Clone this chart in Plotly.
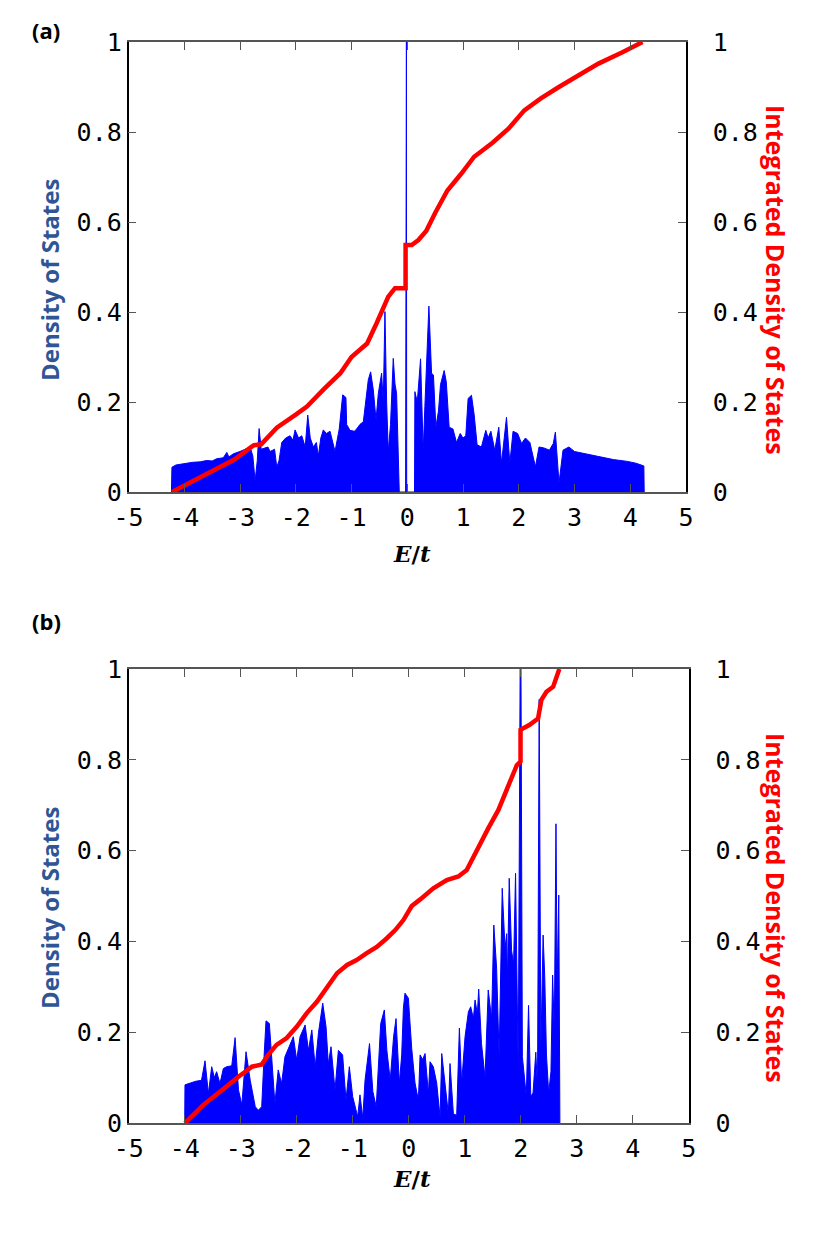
import plotly.graph_objects as go

# ---- data: panel (a) ----
dos_a_x = [-4.23, -4.221, -4.15, -4.0, -3.85, -3.714, -3.6, -3.5, -3.415, -3.3, -3.236, -3.2, -3.117, -3.0,
           -2.938, -2.818, -2.77, -2.729, -2.69, -2.657, -2.62, -2.58, -2.5, -2.46, -2.38, -2.34, -2.3, -2.251,
           -2.18, -2.102, -2.05, -2.012, -1.95, -1.892, -1.83, -1.785, -1.74, -1.684, -1.63, -1.595, -1.55,
           -1.505, -1.45, -1.385, -1.296, -1.22, -1.158, -1.1, -1.087, -1.027, -0.95, -0.908, -0.85, -0.788,
           -0.74, -0.699, -0.657, -0.609, -0.56, -0.519, -0.46, -0.43, -0.40, -0.37, -0.34, -0.30, -0.251,
           -0.22, -0.191, -0.16, -0.143, -0.03, -0.025, -0.015, -0.01, 0.13, 0.137, 0.18, 0.239, 0.286, 0.316,
           0.388, 0.436, 0.47, 0.513, 0.56, 0.597, 0.662, 0.70, 0.752, 0.82, 0.884, 0.95, 1.0, 1.05, 1.092,
           1.152, 1.2, 1.253, 1.33, 1.409, 1.45, 1.5, 1.57, 1.642, 1.69, 1.78, 1.84, 1.898, 1.98, 2.05, 2.12,
           2.2, 2.299, 2.364, 2.45, 2.55, 2.62, 2.657, 2.69, 2.722, 2.794, 2.9, 3.0, 3.2, 3.45, 3.7, 3.95,
           4.1, 4.244, 4.25]
dos_a_y = [0, 0.055, 0.06, 0.063, 0.066, 0.067, 0.07, 0.069, 0.074, 0.076, 0.088, 0.078, 0.085, 0.09,
           0.093, 0.10, 0.08, 0.025, 0.07, 0.141, 0.095, 0.097, 0.1, 0.09, 0.095, 0.055, 0.07, 0.11,
           0.12, 0.125, 0.115, 0.138, 0.12, 0.125, 0.1, 0.171, 0.12, 0.1, 0.11, 0.08, 0.12,
           0.138, 0.13, 0.135, 0.09, 0.14, 0.216, 0.21, 0.15, 0.137, 0.135, 0.14, 0.15, 0.156,
           0.2, 0.249, 0.267, 0.227, 0.16, 0.219, 0.264, 0.2, 0.401, 0.2, 0.09, 0.15, 0.297,
           0.24, 0.219, 0.09, 0, 0, 1.0, 1.0, 0, 0, 0.223, 0.2, 0.296, 0.09, 0.19,
           0.413, 0.264, 0.26, 0.144, 0.18, 0.239, 0.27, 0.245, 0.144, 0.14, 0.11, 0.13, 0.12, 0.125, 0.208,
           0.215, 0.172, 0.105, 0.1, 0.137, 0.12, 0.135, 0.093, 0.144, 0.064, 0.166, 0.064, 0.135, 0.13, 0.108, 0.12,
           0.11, 0.056, 0.1, 0.098, 0.093, 0.108, 0.133, 0.07, 0.02, 0.093, 0.1, 0.09, 0.085, 0.078, 0.072, 0.068,
           0.064, 0.058, 0]
idos_a_x = [-4.22, -3.9, -3.5, -3.1, -2.82, -2.75, -2.62, -2.34, -2.0, -1.8, -1.5, -1.2, -1.0, -0.72,
            -0.55, -0.43, -0.34, -0.22, -0.03, -0.03, 0.08, 0.2, 0.34, 0.5, 0.72, 0.96, 1.2, 1.53, 1.82,
            2.1, 2.39, 2.72, 3.05, 3.43, 3.86, 4.22]
idos_a_y = [0, 0.02, 0.045, 0.072, 0.098, 0.104, 0.106, 0.143, 0.172, 0.19, 0.228, 0.264, 0.3, 0.33,
            0.375, 0.412, 0.434, 0.453, 0.453, 0.549, 0.549, 0.56, 0.58, 0.62, 0.67, 0.706, 0.745, 0.776, 0.808,
            0.848, 0.874, 0.9, 0.923, 0.952, 0.977, 1.0]

# ---- data: panel (b) ----
dos_b_x = [-4.0, -3.995, -3.9, -3.8, -3.7, -3.637, -3.577, -3.518, -3.47, -3.43, -3.37, -3.31, -3.25, -3.16,
           -3.1, -3.04, -2.98, -2.905, -2.83, -2.74, -2.685, -2.625, -2.583, -2.548, -2.488, -2.45, -2.39,
           -2.33, -2.27, -2.21, -2.12, -2.06, -2.0, -1.94, -1.85, -1.79, -1.73, -1.67, -1.61, -1.535, -1.476,
           -1.435, -1.387, -1.316, -1.256, -1.18, -1.12, -1.06, -1.0, -0.911, -0.87, -0.82, -0.78, -0.70,
           -0.64, -0.58, -0.5, -0.435, -0.39, -0.33, -0.27, -0.226, -0.167, -0.125, -0.095, -0.066, -0.006,
           0.054, 0.113, 0.173, 0.203, 0.25, 0.292, 0.351, 0.381, 0.44, 0.5, 0.56, 0.59, 0.65, 0.708, 0.738,
           0.798, 0.857, 0.905, 0.946, 1.006, 1.066, 1.107, 1.155, 1.185, 1.226, 1.25, 1.3, 1.363, 1.42, 1.48,
           1.52, 1.57, 1.615, 1.67, 1.72, 1.75, 1.76, 1.795, 1.837, 1.873, 1.908, 1.956, 1.99, 2.005, 2.03,
           2.07, 2.1, 2.14, 2.18, 2.22, 2.27, 2.3, 2.33, 2.36, 2.4, 2.43, 2.46, 2.5, 2.54, 2.57, 2.6, 2.63,
           2.65, 2.68, 2.70]
dos_b_y = [0, 0.084, 0.088, 0.092, 0.094, 0.137, 0.065, 0.124, 0.1, 0.113, 0.087, 0.12, 0.124, 0.126,
           0.188, 0.073, 0.04, 0.157, 0.094, 0.036, 0.028, 0.036, 0.146, 0.225, 0.219, 0.146, 0.043,
           0.117, 0.087, 0.146, 0.175, 0.19, 0.139, 0.19, 0.216, 0.16, 0.205, 0.124, 0.2, 0.264, 0.212,
           0.13, 0.168, 0.073, 0.16, 0.15, 0.05, 0.124, 0.058, 0.014, 0.062, 0.011, 0.094, 0.175,
           0.069, 0.036, 0.219, 0.249, 0.16, 0.094, 0.19, 0.23, 0.087, 0.15, 0.253, 0.286, 0.275,
           0.164, 0.088, 0.05, 0.15, 0.14, 0.153, 0.065, 0.135, 0.124, 0.088, 0.013, 0.153, 0.088, 0.02, 0.131,
           0.02, 0.017, 0.209, 0.088, 0.19, 0.245, 0.256, 0.23, 0.271, 0.24, 0.295, 0.175, 0.1, 0.293, 0.23,
           0.436, 0.341, 0.146, 0.517, 0.385, 0.417, 0.3, 0.539, 0.38, 0.35, 0.55, 0.113, 1.0, 1.0, 0.146,
           0.088, 0.059, 0.259, 0.059, 0.066, 0.156, 0.075, 0.933, 0.16, 0.414, 0.32, 0.15, 0.066, 0.113, 0.326, 0.2, 0.659,
           0.3, 0.502, 0.0]
idos_b_x = [-3.995, -3.667, -3.37, -3.13, -3.04, -2.92, -2.80, -2.625, -2.51, -2.36, -2.18, -2.0, -1.82,
            -1.64, -1.46, -1.28, -1.1, -0.93, -0.75, -0.57, -0.39, -0.24, -0.095, 0.054, 0.2, 0.44, 0.68,
            0.887, 1.036, 1.27, 1.42, 1.6, 1.78, 1.93, 1.997, 1.997, 2.16, 2.31, 2.37, 2.46, 2.58, 2.69]
idos_b_y = [0, 0.04, 0.069, 0.095, 0.102, 0.113, 0.124, 0.129, 0.15, 0.172, 0.187, 0.212, 0.242,
            0.267, 0.3, 0.33, 0.348, 0.359, 0.374, 0.388, 0.407, 0.425, 0.447, 0.478, 0.492, 0.517, 0.535,
            0.543, 0.557, 0.616, 0.649, 0.689, 0.741, 0.788, 0.796, 0.866, 0.877, 0.891, 0.932, 0.95, 0.961, 1.0]

x_ticks = [-5, -4, -3, -2, -1, 0, 1, 2, 3, 4, 5]
x_ticktext = ['-5', '-4', '-3', '-2', '-1', '0', '1', '2', '3', '4', '5']
y_ticks = [0, 0.2, 0.4, 0.6, 0.8, 1]
y_ticktext = ['0', '0.2', '0.4', '0.6', '0.8', '1']

W, H = 830, 1245
OFF = 8  # page body margin in the browser
tick_font = dict(family='DejaVu Sans Mono', size=25, color='black')


def px(v):
    return (v - OFF) / W


def py(v):
    return 1 - (v - OFF) / H


fig = go.Figure()
fig.add_trace(go.Scatter(x=dos_a_x, y=dos_a_y, mode='lines', fill='tozeroy',
                         line=dict(color='rgb(0,0,255)', width=1), fillcolor='rgb(0,0,255)',
                         xaxis='x', yaxis='y', showlegend=False))
fig.add_trace(go.Scatter(x=idos_a_x, y=idos_a_y, mode='lines', line=dict(color='rgb(255,0,0)', width=4.5),
                         xaxis='x', yaxis='y2', showlegend=False))
fig.add_trace(go.Scatter(x=dos_b_x, y=dos_b_y, mode='lines', fill='tozeroy',
                         line=dict(color='rgb(0,0,255)', width=1), fillcolor='rgb(0,0,255)',
                         xaxis='x2', yaxis='y3', showlegend=False))
fig.add_trace(go.Scatter(x=idos_b_x, y=idos_b_y, mode='lines', line=dict(color='rgb(255,0,0)', width=4.5),
                         xaxis='x2', yaxis='y4', showlegend=False))


def xax(domain, anchor):
    return dict(domain=domain, anchor=anchor, range=[-5, 5], tickvals=x_ticks, ticktext=x_ticktext,
                ticks='inside', ticklen=8, tickcolor='#555', showline=True, linecolor='#555', linewidth=1.5,
                mirror='ticks', showgrid=False, zeroline=False, tickfont=tick_font, ticklabelstandoff=2,
                automargin=False)


def yax(domain, anchor, side='left', overlaying=None):
    d = dict(domain=domain, anchor=anchor, range=[0, 1], tickvals=y_ticks, ticktext=y_ticktext,
             ticks='inside', ticklen=8, tickcolor='#555', showline=True, linecolor='black', linewidth=1.5,
             showgrid=False, zeroline=False, tickfont=tick_font, side=side, automargin=False,
             ticklabelstandoff=0 if side == 'left' else 20)
    if overlaying:
        d['overlaying'] = overlaying
    return d


xa = [px(128.5), px(686)]
ya = [py(492), py(42)]
xb = [px(128.7), px(688.7)]
yb = [py(1123), py(669)]

fig.update_layout(
    width=W, height=H, plot_bgcolor='white', paper_bgcolor='white',
    margin=dict(l=0, r=0, t=0, b=0, autoexpand=False),
    xaxis=xax(xa, 'y'),
    yaxis=yax(ya, 'x'),
    yaxis2=yax(ya, 'x', side='right', overlaying='y'),
    xaxis2=xax(xb, 'y3'),
    yaxis3=yax(yb, 'x2'),
    yaxis4=yax(yb, 'x2', side='right', overlaying='y3'),
)

annotations = []
for label, ly in [('(a)', 30), ('(b)', 621)]:
    annotations.append(dict(text='<b>' + label + '</b>', x=px(30), y=py(ly), xref='paper', yref='paper',
                            xanchor='left', yanchor='middle', showarrow=False,
                            font=dict(family='Open Sans', size=22, color='black')))
for cy, ey in [(280, 553), (908, 1178)]:
    annotations.append(dict(text='<b>Density of States</b>', x=px(49), y=py(cy), xref='paper', yref='paper',
                            xanchor='center', yanchor='middle', textangle=-90, showarrow=False,
                            font=dict(family='Open Sans', size=24, color='#2f5597')))
    annotations.append(dict(text='<b>Integrated Density of States</b>', x=px(776), y=py(cy),
                            xref='paper', yref='paper', xanchor='center', yanchor='middle',
                            textangle=90, showarrow=False,
                            font=dict(family='Open Sans', size=25, color='red')))
    annotations.append(dict(text='<b><i>E</i>/<i>t</i></b>', x=px(412), y=py(ey), xref='paper', yref='paper',
                            xanchor='center', yanchor='middle', showarrow=False,
                            font=dict(family='DejaVu Serif', size=23, color='black')))
fig.update_layout(annotations=annotations)

fig.write_html("out.html")
